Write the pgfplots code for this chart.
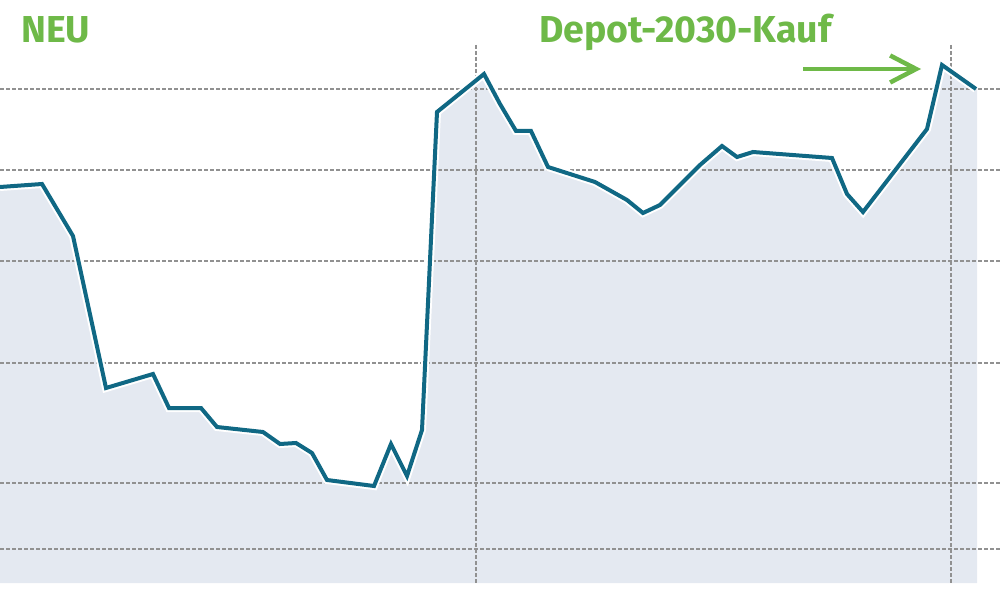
\documentclass[border=0pt]{standalone}
\usepackage{pgfplots}
\pgfplotsset{compat=1.18}
\usepackage{fontspec}
\setmainfont{Fira Sans}
\usetikzlibrary{arrows.meta}
\definecolor{linec}{RGB}{16,104,132}
\definecolor{fillc}{RGB}{228,233,241}
\definecolor{gridc}{RGB}{145,145,145}
\definecolor{greenc}{RGB}{110,185,72}
\begin{document}
\begin{tikzpicture}
\begin{axis}[
  name=ax,
  width=1000pt, height=593pt, scale only axis,
  xmin=0, xmax=1000, ymin=0, ymax=593, y dir=reverse,
  hide axis, clip=false,
]
% area
\addplot[fill=fillc, draw=none] coordinates {
(0,583) (0,187) (42,184) (73,236) (106,388) (153,374) (169,408) (201,408) (217,427)
(263,432) (280,444) (296,443) (312,453) (327,480) (374,486) (391,444) (407,476)
(422,430) (437,112) (484,74) (500,104) (516,131) (531,131) (548,167) (595,182)
(627,200) (643,213) (660,205) (700,165) (722,146) (737,157) (753,152) (832,158)
(847,194) (863,212) (927,129) (942,65) (976,89) (977,89) (977,583)} -- cycle;
% horizontal grid
\foreach \g in {89,170,261,363,483,549}{
  \edef\tmp{\noexpand\draw[gridc, line width=1.4pt, dash pattern=on 4pt off 2pt] (axis cs:0,\g) -- (axis cs:1000,\g);}\tmp
}
% vertical grid
\draw[gridc, line width=1.4pt, dash pattern=on 4pt off 2pt] (axis cs:476,45) -- (axis cs:476,583);
\draw[gridc, line width=1.4pt, dash pattern=on 4pt off 2pt] (axis cs:951,45) -- (axis cs:951,583);
% halo + line
\addplot[white, line width=8pt, line join=miter, miter limit=3] coordinates {
(0,187) (42,184) (73,236) (106,388) (153,374) (169,408) (201,408) (217,427)
(263,432) (280,444) (296,443) (312,453) (327,480) (374,486) (391,444) (407,476)
(422,430) (437,112) (484,74) (500,104) (516,131) (531,131) (548,167) (595,182)
(627,200) (643,213) (660,205) (700,165) (722,146) (737,157) (753,152) (832,158)
(847,194) (863,212) (927,129) (942,65) (976,89)};
\addplot[linec, line width=4pt, line join=miter, miter limit=4] coordinates {
(0,187) (42,184) (73,236) (106,388) (153,374) (169,408) (201,408) (217,427)
(263,432) (280,444) (296,443) (312,453) (327,480) (374,486) (391,444) (407,476)
(422,430) (437,112) (484,74) (500,104) (516,131) (531,131) (548,167) (595,182)
(627,200) (643,213) (660,205) (700,165) (722,146) (737,157) (753,152) (832,158)
(847,194) (863,212) (927,129) (942,65) (976,89)};
% annotations
\node[anchor=base west, inner sep=0pt, text=greenc, font=\fontsize{37.5}{40}\selectfont\bfseries] at (axis cs:21,43) {NEU};
\node[anchor=base west, inner sep=0pt, text=greenc, font=\fontsize{37.5}{40}\selectfont\bfseries] at (axis cs:539,43) {Depot-2030-Kauf};
\draw[greenc, line width=4.5pt, -{Straight Barb[length=26pt,width=27pt,line width=4.5pt]}] (axis cs:803,69) -- (axis cs:921,69);
\end{axis}
\pgfresetboundingbox
\path (ax.south west) rectangle (ax.north east);
\end{tikzpicture}
\end{document}
